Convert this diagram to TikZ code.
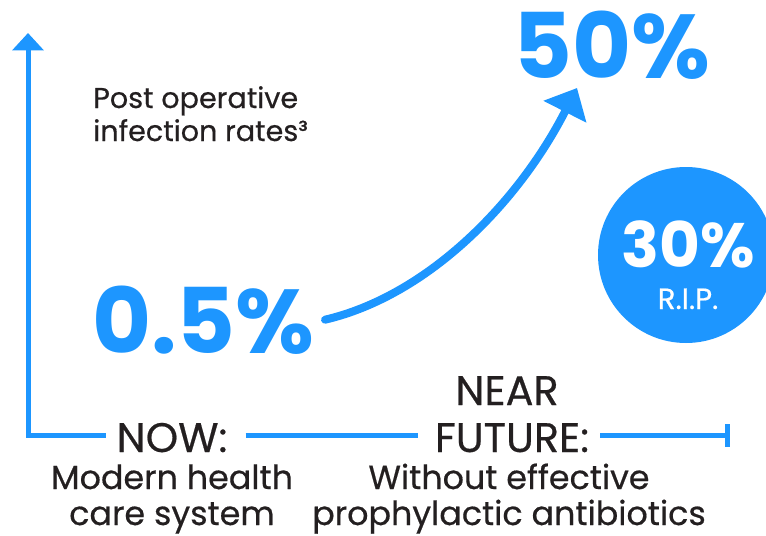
\documentclass[tikz,border=0pt]{standalone}
\usepackage{fontspec}
\setmainfont{Poppins}
\newfontfamily\medfont{Poppins}[FakeBold=0.5]
\usetikzlibrary{arrows.meta,calc}
\definecolor{rateblue}{RGB}{29,150,255}
\definecolor{inkgray}{RGB}{35,31,32}
\tikzset{
  axisline/.style={draw=rateblue, line width=3.75pt},
  axislbl/.style={text=inkgray, inner sep=0pt, font=\medfont\fontsize{31}{34}\selectfont},
  sublbl/.style={text=inkgray, inner sep=0pt, align=center, font=\medfont\fontsize{25}{27}\selectfont},
  bignum/.style={text=rateblue, inner sep=0pt, font=\fontsize{68}{70}\selectfont\bfseries},
}

\begin{document}
\begin{tikzpicture}[x=0.75pt, y=-0.75pt]
  \useasboundingbox (0,0) rectangle (766,535);
  % axes
  \coordinate (origin) at (28,435.5);
  \coordinate (ytop) at (28,33);
  \coordinate (xend) at (730,435.5);
  \node[axislbl, anchor=base] (now) at (172,452) {NOW:};
  \node[axislbl, anchor=base] (near) at (507,405) {NEAR};
  \node[axislbl, anchor=base] (future) at (512,452) {FUTURE:};
  \draw[axisline, {Triangle[width=23pt,length=13pt]}-] (ytop) -- (origin) -- ($(now.west|-origin)+(-10,0)$);
  \draw[axisline] ($(now.east|-origin)+(18,0)$) -- ($(future.west|-origin)+(-17,0)$);
  \draw[axisline, -{Bar[width=17pt]}] ($(future.east|-origin)+(11,0)$) -- (xend);
  \node[sublbl, anchor=base] (modern) at (172,525) {Modern health\\care system};
  \node[sublbl, anchor=base] (without) at (509,525) {Without effective\\prophylactic antibiotics};

  % rates
  \node[text=inkgray, inner sep=0pt, align=left, anchor=base west,
        font=\medfont\fontsize{21.5}{24.75}\selectfont] (ylabel) at (93,141) {Post operative\\infection rates³};
  \node[bignum, anchor=base west] (nowrate) at (92,353) {0.5\%};
  \node[bignum, anchor=base west] (futurerate) at (513,79) {50\%};
  \coordinate (risetip) at (577,88);
  \draw[rateblue, line width=6pt, line cap=round, -{Triangle[width=35pt,length=20pt]}]
    ($(nowrate.east)+(10,0)$) .. controls (430,295) and (520,200) .. (risetip);

  % deaths
  \node[circle, fill=rateblue, inner sep=0pt, minimum size=132pt] (death) at (686,255) {};
  \node[text=white, inner sep=0pt, anchor=base, font=\fontsize{47}{50}\selectfont\bfseries] (deathrate) at (688,267) {30\%};
  \node[text=white, inner sep=0pt, anchor=base, font=\medfont\fontsize{22}{24}\selectfont] (rip) at (688,309) {R.I.P.};
\end{tikzpicture}
\end{document}
